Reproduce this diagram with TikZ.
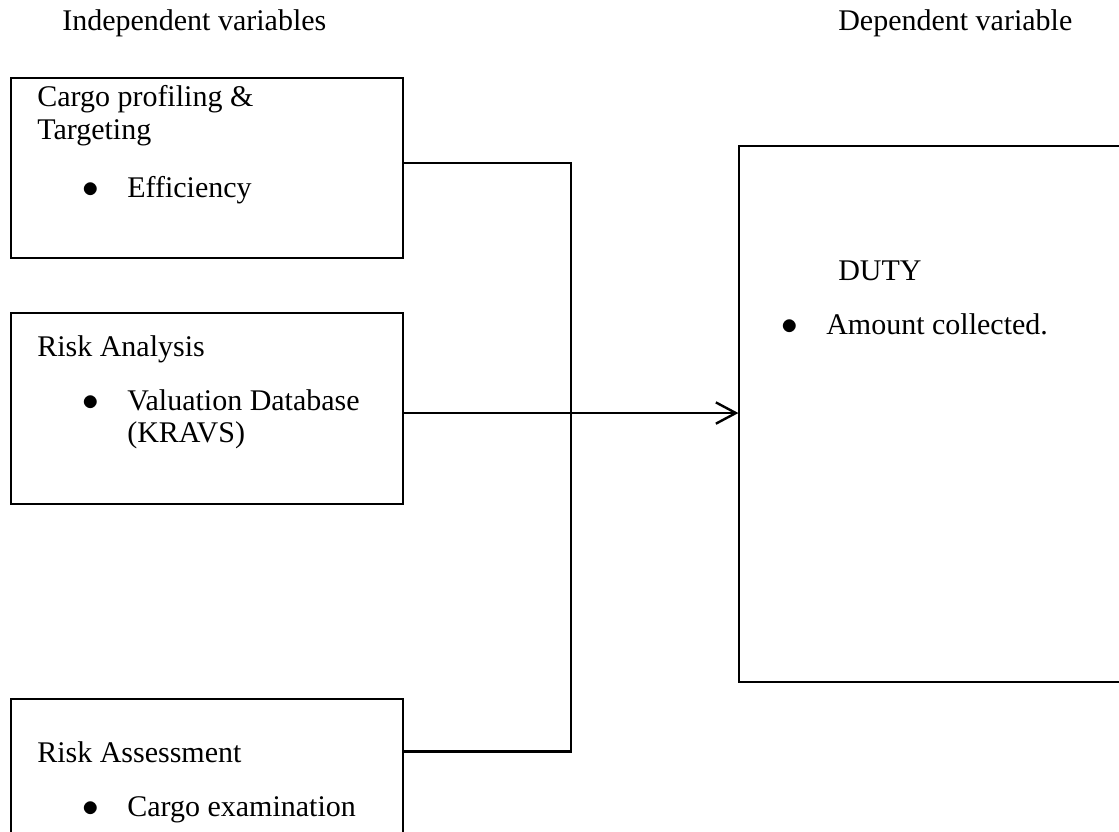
\documentclass[tikz,border=0pt]{standalone}
\usepackage{fontspec}
\setmainfont{Liberation Serif}
\usetikzlibrary{arrows.meta}
\begin{document}
\begin{tikzpicture}[x=0.75pt,y=-0.75pt,
    box/.style={draw,line width=0.9pt,inner sep=0pt,minimum width=294pt},
    link/.style={line width=1.8pt},
    txt/.style={anchor=base west,inner sep=0pt,font=\fontsize{22.5}{27}\selectfont},
    dot/.style={anchor=base,inner sep=0pt,font=\fontsize{27}{30}\selectfont}]
    \clip (0,0) rectangle (1119,831);
    \fill[white] (0,0) rectangle (1119,831);
    % 绘制方框
    \node[box,minimum height=135pt] (profiling) at (207,168) {};
    \node[box,minimum height=143.25pt] (analysis) at (207,408.5) {};
    \node[box,minimum height=150.75pt] (assessment) at (207,799.5) {};
    \node[box,minimum width=345.75pt,minimum height=402pt] (duty) at (969.5,414) {};
    % 标题
    \node[txt] (indep) at (62,31) {Independent variables};
    \node[txt] (dep) at (838,31) {Dependent variable};
    % 方框文字
    \node[txt] (p1) at (37,107) {Cargo profiling \&};
    \node[txt] (p2) at (37,139) {Targeting};
    \node[dot] (pb) at (91,197) {$\bullet$};
    \node[txt] (p3) at (127,197) {Efficiency};
    \node[txt] (a1) at (37,356) {Risk Analysis};
    \node[dot] (ab) at (91,410) {$\bullet$};
    \node[txt] (a2) at (127,410) {Valuation Database};
    \node[txt] (a3) at (127,442) {(KRAVS)};
    \node[txt] (r1) at (37,762) {Risk Assessment};
    \node[dot] (rb) at (91,816) {$\bullet$};
    \node[txt] (r2) at (127,816) {Cargo examination};
    \node[txt] (d1) at (838,280) {DUTY};
    \node[dot] (db) at (790,334) {$\bullet$};
    \node[txt] (d2) at (826,334) {Amount collected.};
    % 绘制连线
    \coordinate (out1) at ([yshift=3.75pt]profiling.east);
    \coordinate (out2) at ([yshift=-3.4pt]analysis.east);
    \coordinate (out3) at ([yshift=-39.75pt]assessment.north east);
    \coordinate (bus) at (571,0);
    \draw[link] (out1) -- (out1 -| bus) -- (out3 -| bus) -- (out3);
    \draw[link,-{Straight Barb[length=15pt,width=16pt,line width=1.8pt]}] (out2) -- (out2 -| duty.west);
\end{tikzpicture}
\end{document}
